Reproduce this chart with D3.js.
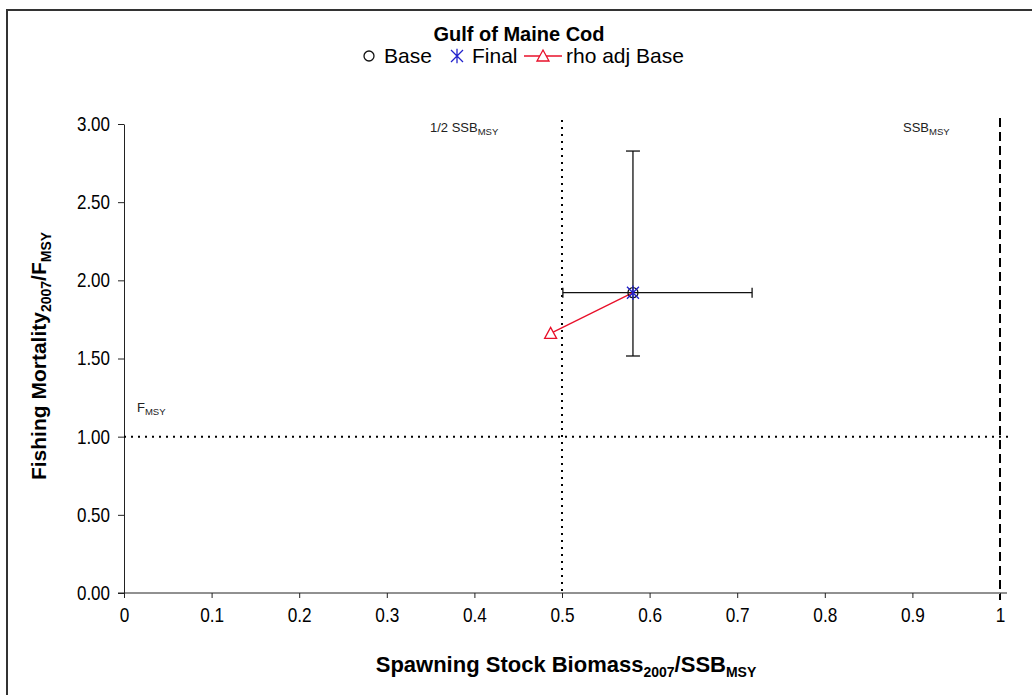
<!DOCTYPE html>
<html><head><meta charset="utf-8">
<script src="https://cdn.jsdelivr.net/npm/d3@7"></script>
<style>body{margin:0;background:#fff}svg{font-family:Arial,"Liberation Sans",sans-serif}</style>
</head><body><svg id="c" width="1032" height="695"></svg>
<script>
// data
const seriesNames = ["Base", "Final", "rho adj Base"];
const baseSSB = [0.581], baseF = [1.921];
const finalSSB = [0.581], finalF = [1.921];
const rhoSSB = [0.581, 0.487], rhoF = [1.921, 1.661];
const ssbErr = [0.501, 0.717];
const fErr = [1.516, 2.827];
const xTicks = [0, 0.1, 0.2, 0.3, 0.4, 0.5, 0.6, 0.7, 0.8, 0.9, 1];
const yTicks = [0, 0.5, 1, 1.5, 2, 2.5, 3];
const refSSB = [0.5, 1];
const refF = [1];

const svg = d3.select("#c");
svg.append("rect").attr("x",7).attr("y",10).attr("width",1060).attr("height",720)
  .attr("fill","none").attr("stroke","#333").attr("stroke-width",2);

const x = d3.scaleLinear().domain([0,1]).range([124,1000]);
const y = d3.scaleLinear().domain([0,3]).range([593,124]);

// axes
const xa = svg.append("g").attr("transform","translate(0,593)")
  .call(d3.axisBottom(x).tickValues(xTicks).tickFormat(d=>d3.format("")(d)).tickSize(5).tickSizeOuter(0));
xa.select(".domain").attr("d",`M${x(0)-6},0H${x(1.008)}`).attr("stroke","#222");
xa.selectAll(".tick line").attr("stroke","#222");
xa.selectAll("text").attr("font-size",21).attr("dy","1.0em").attr("fill","#000")
  .attr("transform","scale(0.82,1)");

const ya = svg.append("g").attr("transform","translate(124,0)")
  .call(d3.axisLeft(y).tickValues(yTicks).tickFormat(d3.format(".2f")).tickSize(6).tickSizeOuter(0));
ya.select(".domain").attr("stroke","#222");
ya.selectAll(".tick line").attr("stroke","#222");
ya.selectAll("text").attr("font-size",20).attr("x",-14/0.85).attr("fill","#000")
  .attr("transform","scale(0.85,1)");

// reference lines
svg.append("line").attr("x1",x(0)).attr("x2",x(1.012)).attr("y1",y(refF[0])).attr("y2",y(refF[0]))
  .attr("stroke","#000").attr("stroke-width",2).attr("stroke-dasharray","2,5");
svg.append("line").attr("x1",x(refSSB[0])).attr("x2",x(refSSB[0])).attr("y1",y(3)-4).attr("y2",y(0))
  .attr("stroke","#000").attr("stroke-width",2).attr("stroke-dasharray","2,5");
svg.append("line").attr("x1",x(refSSB[1])).attr("x2",x(refSSB[1])).attr("y1",y(3)-6).attr("y2",y(0)+7)
  .attr("stroke","#000").attr("stroke-width",2).attr("stroke-dasharray","9,5");

// ref labels
function subLabel(tx, ty, main, sub, size, subsize){
  const t = svg.append("text").attr("x",tx).attr("y",ty).attr("font-size",size).attr("fill","#222");
  t.append("tspan").text(main);
  t.append("tspan").attr("font-size",subsize).attr("dy",3).text(sub);
  return t;
}
subLabel(430,132,"1/2 SSB","MSY",13,9.5);
subLabel(903,132,"SSB","MSY",13,9.5);
subLabel(137,412,"F","MSY",13,9.5);

// error bars
const cx = x(finalSSB[0]), cy = y(finalF[0]);
const eb = svg.append("g").attr("stroke","#111").attr("stroke-width",1.3);
eb.append("line").attr("x1",cx).attr("x2",cx).attr("y1",y(fErr[0])).attr("y2",y(fErr[1]));
eb.append("line").attr("x1",cx-7).attr("x2",cx+7).attr("y1",y(fErr[0])).attr("y2",y(fErr[0]));
eb.append("line").attr("x1",cx-7).attr("x2",cx+7).attr("y1",y(fErr[1])).attr("y2",y(fErr[1]));
eb.append("line").attr("x1",x(ssbErr[0])).attr("x2",x(ssbErr[1])).attr("y1",cy).attr("y2",cy);
eb.append("line").attr("x1",x(ssbErr[0])).attr("x2",x(ssbErr[0])).attr("y1",cy-5).attr("y2",cy+5);
eb.append("line").attr("x1",x(ssbErr[1])).attr("x2",x(ssbErr[1])).attr("y1",cy-5).attr("y2",cy+5);

// rho adj line
const red = "#e8102a";
svg.append("path").datum(rhoSSB.map((d,i)=>[d,rhoF[i]]))
  .attr("d",d3.line().x(d=>x(d[0])).y(d=>y(d[1]))).attr("stroke",red).attr("stroke-width",1.3).attr("fill","none");

function tri(g, px, py){
  g.append("path").attr("d",`M${px},${py-6}L${px+6},${py+5}L${px-6},${py+5}Z`)
    .attr("fill","#fff").attr("stroke",red).attr("stroke-width",1.3);
}
function star(g, px, py, s){
  const p = `M${px-s},${py-s}L${px+s},${py+s}M${px-s},${py+s}L${px+s},${py-s}M${px},${py-s*1.2}L${px},${py+s*1.2}`;
  g.append("path").attr("d",p).attr("stroke","#2222cc").attr("stroke-width",1.3).attr("fill","none");
}
function circ(g, px, py){
  g.append("circle").attr("cx",px).attr("cy",py).attr("r",5).attr("fill","none").attr("stroke","#111").attr("stroke-width",1.3);
}
const mk = svg.append("g");
rhoSSB.slice(1).forEach((d,i)=>tri(mk, x(d), y(rhoF[i+1])));
baseSSB.forEach((d,i)=>circ(mk, x(d), y(baseF[i])));
finalSSB.forEach((d,i)=>star(mk, x(d), y(finalF[i]), 6));

// title
svg.append("text").attr("x",519).attr("y",41).attr("text-anchor","middle")
  .attr("font-size",20).attr("font-weight","bold").text("Gulf of Maine Cod");

// legend
const lg = svg.append("g").attr("font-size",21);
circ(lg, 369, 56);
lg.append("text").attr("x",384).attr("y",63).text(seriesNames[0]);
star(lg, 457, 56, 6);
lg.append("text").attr("x",472).attr("y",63).text(seriesNames[1]);
lg.append("line").attr("x1",524).attr("x2",562).attr("y1",56).attr("y2",56).attr("stroke",red).attr("stroke-width",1.3);
tri(lg, 543, 56);
lg.append("text").attr("x",566).attr("y",63).text(seriesNames[2]);

// axis titles
const xt = svg.append("text").attr("x",566).attr("y",672).attr("text-anchor","middle")
  .attr("font-size",22).attr("font-weight","bold");
xt.append("tspan").text("Spawning Stock Biomass");
xt.append("tspan").attr("font-size",14).attr("dy",5).text("2007");
xt.append("tspan").attr("dy",-5).text("/SSB");
xt.append("tspan").attr("font-size",14).attr("dy",5).text("MSY");

const yt = svg.append("text").attr("transform","translate(46,356) rotate(-90)").attr("text-anchor","middle")
  .attr("font-size",21).attr("font-weight","bold");
yt.append("tspan").text("Fishing Mortality");
yt.append("tspan").attr("font-size",14).attr("dy",5).text("2007");
yt.append("tspan").attr("dy",-5).text("/F");
yt.append("tspan").attr("font-size",14).attr("dy",5).text("MSY");
</script></body></html>
